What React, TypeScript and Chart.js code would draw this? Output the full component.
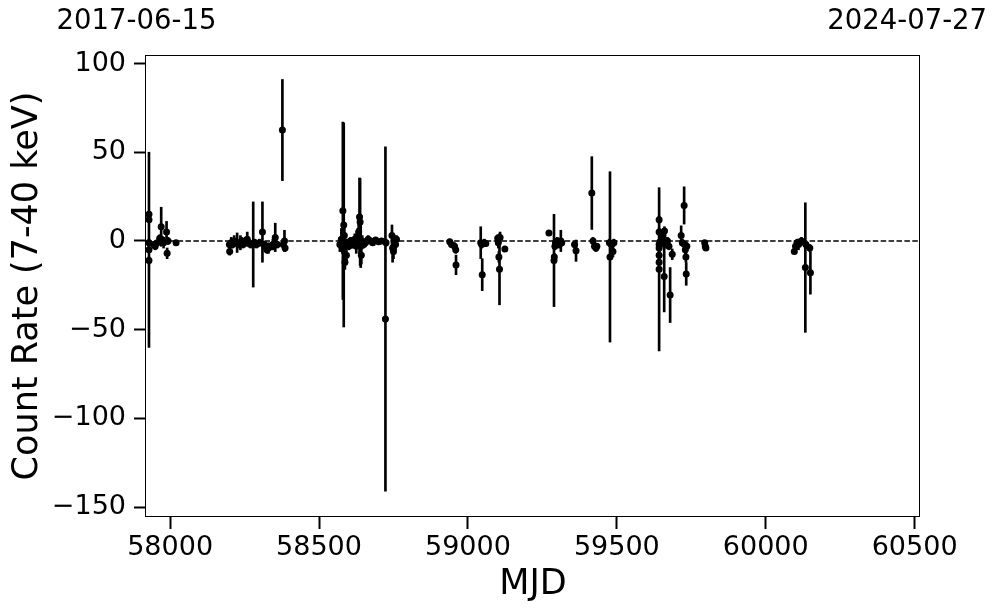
import React, { useEffect, useRef } from 'react';
import { Chart, registerables } from 'chart.js';

Chart.register(...registerables);

// Observation times (MJD)
const mjd = [
  57929, 57929, 57929, 57929, 57929, 57945, 57950, 57957, 57965, 57970, 57974, 57978, 57988, 57990, 57993, 58020,
  58199, 58200, 58205, 58210, 58215, 58225, 58230, 58236, 58240, 58245, 58252, 58259, 58265, 58270, 58279, 58285,
  58290, 58300, 58310, 58315, 58320, 58325, 58330, 58340, 58345, 58353, 58360, 58377, 58380, 58384, 58386,
  58570, 58575, 58578, 58580, 58583, 58585, 58587, 58590, 58592, 58595, 58600, 58605, 58610, 58615, 58620, 58625,
  58630, 58633, 58636, 58638, 58640, 58642, 58645, 58650, 58656, 58665, 58673, 58680, 58690, 58700, 58710, 58723,
  58725, 58745, 58747, 58750, 58752, 58757, 58760,
  58939, 58945, 58955, 58959, 58960,
  59043, 59046, 59048, 59055, 59060, 59100, 59102, 59104, 59106, 59108, 59124,
  59272, 59289, 59290, 59292, 59294, 59300, 59305, 59312, 59315, 59358, 59363,
  59416, 59420, 59425, 59430, 59433, 59475, 59477, 59482, 59487, 59490,
  59642, 59642, 59642, 59642, 59642, 59642, 59642, 59645, 59650, 59655, 59659, 59660, 59662, 59665, 59670, 59675,
  59679, 59686, 59716, 59720, 59726, 59728, 59730, 59732, 59733, 59735, 59795, 59797, 59799,
  60096, 60100, 60105, 60110, 60115, 60120, 60133, 60135, 60148, 60150,
];

// Count rate (7-40 keV)
const rate = [
  15, 12, -5, -11, -1, -2, -3, -1, 1.5, 8, 0.5, -1, 5, -7, 0, -1,
  -2, -6, -1, -2, 0, -1, -2, -1, 0, -2, 0, 1, -1, -2, -2, -1,
  -2, -1, 5, -2, -3, -5, -4, -3, -2, 2, -2, 62.5, -2, 0, -4,
  -2, 1, -4, 17, 9, 3, -12, -2, -8, -1, -3, 0, -1, -2, 1, -3,
  2, 5, 13.5, 10.7, -3, -8, 0, -2, -1, 1, 0, -1, 0.5, -0.5, 0, -44,
  -1, 3, -4, -6, 0, -2, 1,
  -0.5, -2, -3, -5, -13.5,
  -1, -2, -19, -1, -1.5, 1.5, -1, -9, -16, 2, -4.5,
  4.5, -11, -9, -3, -1, 0, -2, 0, -1, -2, -5.5,
  27, 0, -3, -4, -3, -1, -9, -2, -6, -1,
  12, 5, -2, -16, -8, -12, -4, -0.5, 1, 3, -20, 5.6, -2, -1, 0, -3,
  -30.5, -7.5, 3, -1, 20, -2, -5, -9, -18.6, -3, -1, -3, -4,
  -6, -3, -1, -2, -1, 0, -15, -2, -4, -18,
];

// 1-sigma uncertainty
const err = [
  1.5, 1.5, 55, 2, 2, 1.5, 2, 1.5, 2, 11, 2, 3, 6, 3, 2, 1,
  2, 2, 3, 2, 3, 5.5, 2, 4, 2, 2, 2, 4, 2, 2, 24, 2,
  2, 2, 17, 2, 3, 2, 3, 2, 3, 8, 2, 28.5, 2, 6, 2,
  4, 6, 3, 50, 57.5, 5, 4, 3, 3, 2, 2, 2, 3, 2, 3, 4,
  5, 6, 22, 24.5, 12, 5, 3, 2, 2, 2, 1.5, 1.5, 1.5, 1, 1, 97,
  2, 6, 8, 4, 3, 3, 2,
  1.5, 1.5, 2, 2, 5.5,
  9, 2, 9, 2, 1.5, 2, 3, 3, 20, 3, 1.5,
  1.5, 26, 2, 2, 2, 2, 2, 6, 2, 2, 6,
  20.5, 2, 2, 2, 1, 2, 48, 2, 3, 2,
  2, 2, 2, 46, 3, 2, 2, 2, 2, 3, 20, 2.4, 2, 2, 2, 2,
  15.5, 3, 5.5, 2, 10.5, 2, 3, 3, 6.4, 2, 1, 1, 1,
  1, 2, 2, 3, 2, 2, 36.5, 2, 2, 12,
];

const xTicks = [58000, 58500, 59000, 59500, 60000, 60500];
const yTicks = [-150, -100, -50, 0, 50, 100];
const xRange = [57919, 60518];
const yRange = [-155.6, 104.8];
const topLabels = ['2017-06-15', '2024-07-27'];
const topLabelMjd = [57887, 60475];

const FONT = "'DejaVu Sans', sans-serif";

const framePlugin = {
  id: 'frame',
  afterDatasetsDraw(chart: any) {
    const { ctx, chartArea: a } = chart;
    ctx.save();
    ctx.strokeStyle = '#000';
    ctx.lineWidth = 1;
    const l = Math.round(a.left) - 0.5;
    const t = Math.round(a.top) + 0.5;
    const r = Math.round(a.right) - 0.5;
    const b = Math.round(a.bottom) - 0.5;
    ctx.strokeRect(l, t, r - l, b - t);
    ctx.restore();
  },
  afterDraw(chart: any) {
    const { ctx } = chart;
    const xs = chart.scales.x;
    ctx.save();
    ctx.fillStyle = '#000';
    ctx.font = `27.5px ${FONT}`;
    ctx.textAlign = 'center';
    ctx.textBaseline = 'middle';
    topLabels.forEach((t, i) => {
      ctx.fillText(t, xs.getPixelForValue(topLabelMjd[i]), 22);
    });
    ctx.restore();
  },
};

const fmt = (v: number) => (v < 0 ? '\u2212' + Math.abs(v) : String(v));

export default function App() {
  const ref = useRef<HTMLCanvasElement | null>(null);

  useEffect(() => {
    if (!ref.current) return;
    const bars = mjd.map((m, i) => ({ x: m, y: [rate[i] - err[i], rate[i] + err[i]] }));
    const pts = mjd.map((m, i) => ({ x: m, y: rate[i] }));
    const chart = new Chart(ref.current, {
      type: 'scatter',
      data: {
        datasets: [
          {
            type: 'line',
            data: [
              { x: xRange[0], y: 0 },
              { x: xRange[1], y: 0 },
            ],
            borderColor: '#000',
            borderWidth: 1.5,
            borderDash: [5.5, 2.4],
            pointRadius: 0,
            order: 3,
          } as any,
          {
            type: 'bar',
            data: bars,
            backgroundColor: '#000',
            borderWidth: 0,
            barThickness: 2,
            grouped: false,
            order: 2,
          } as any,
          {
            type: 'scatter',
            data: pts,
            backgroundColor: '#000',
            borderWidth: 0,
            pointRadius: 3.5,
            order: 1,
          } as any,
        ],
      },
      options: {
        animation: false,
        responsive: false,
        devicePixelRatio: 1,
        events: [],
        layout: { padding: { left: 0, right: 77, top: 55, bottom: 0 } },
        plugins: { legend: { display: false }, tooltip: { enabled: false } },
        scales: {
          x: {
            type: 'linear',
            min: xRange[0],
            max: xRange[1],
            offset: false,
            afterFit: (s: any) => {
              s.height = 96;
            },
            afterBuildTicks: (s: any) => {
              s.ticks = xTicks.map((v) => ({ value: v }));
            },
            grid: {
              display: true,
              drawOnChartArea: false,
              drawTicks: true,
              tickLength: 12,
              tickWidth: 2,
              tickColor: '#000',
              color: '#000',
              offset: false,
            },
            border: { display: false },
            ticks: {
              color: '#000',
              font: { family: FONT, size: 27 },
              padding: 3,
              maxRotation: 0,
              autoSkip: false,
              callback: (v: any) => String(v),
            },
            title: {
              display: true,
              text: 'MJD',
              color: '#000',
              font: { family: FONT, size: 35, lineHeight: 1.2 },
              padding: { top: 0, bottom: 7 },
            },
          },
          y: {
            type: 'linear',
            min: yRange[0],
            max: yRange[1],
            beginAtZero: false,
            afterFit: (s: any) => {
              s.width = 146;
            },
            afterBuildTicks: (s: any) => {
              s.ticks = yTicks.map((v) => ({ value: v }));
            },
            grid: {
              display: true,
              drawOnChartArea: false,
              drawTicks: true,
              tickLength: 12,
              tickWidth: 2,
              tickColor: '#000',
              color: '#000',
            },
            border: { display: false },
            ticks: {
              color: '#000',
              font: { family: FONT, size: 27 },
              padding: 8,
              autoSkip: false,
              callback: (v: any) => fmt(Number(v)),
            },
            title: {
              display: true,
              text: 'Count Rate (7-40 keV)',
              color: '#000',
              font: { family: FONT, size: 35, lineHeight: 1.2 },
              padding: { top: 7, bottom: 0 },
            },
          },
        },
      } as any,
      plugins: [framePlugin],
    });
    return () => chart.destroy();
  }, []);

  return (
    <div style={{ position: 'absolute', left: 0, top: 0, width: 997, height: 613, background: '#fff' }}>
      <canvas ref={ref} width={997} height={613} style={{ display: 'block', width: 997, height: 613 }} />
    </div>
  );
}
